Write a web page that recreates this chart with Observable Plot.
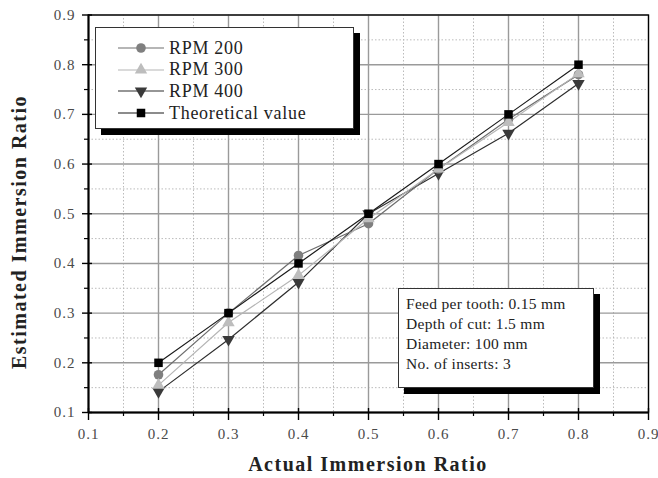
<!DOCTYPE html>
<html>
<head>
<meta charset="utf-8">
<script src="https://cdn.jsdelivr.net/npm/d3@7"></script>
<script src="https://cdn.jsdelivr.net/npm/@observablehq/plot@0.6"></script>
<style>
  html, body { margin: 0; padding: 0; background: #fff; overflow: hidden; }
  #wrap { position: relative; width: 658px; height: 478px; font-family: "Liberation Serif", "Times New Roman", serif; }
  #wrap svg { display: block; }
  #wrap svg.tickchart text { font-size: 15px !important; letter-spacing: 1px; font-family: "Liberation Serif", serif !important; }
  .box { position: absolute; background: #fff; border: 1px solid #333; box-shadow: 6px 6px 0 #000; box-sizing: border-box; }
  #legend { left: 95px; top: 27px; width: 259px; height: 102px; }
  .row { position: absolute; left: 0; height: 22px; display: flex; align-items: center; }
  .row svg { margin-left: 22px; }
  .row span { margin-left: 5px; font-size: 18px; letter-spacing: 0.7px; color: #222; }
  #notes { left: 398px; top: 288px; width: 196px; height: 100px; padding: 5px 0 0 7px; font-size: 15.5px; line-height: 20px; color: #222; letter-spacing: 0.3px; }
  .title { position: absolute; font-weight: bold; font-size: 20px; letter-spacing: 1.5px; color: #222; white-space: nowrap; }
</style>
</head>
<body>
<div id="wrap"></div>
<script>
// Actual immersion ratios (x) and estimated ratios per spindle speed
const actual = [0.2, 0.3, 0.4, 0.5, 0.6, 0.7, 0.8];
const rpm200 = [0.176, 0.300, 0.416, 0.480, 0.590, 0.690, 0.780];
const rpm300 = [0.155, 0.281, 0.376, 0.490, 0.590, 0.684, 0.782];
const rpm400 = [0.142, 0.247, 0.362, 0.500, 0.581, 0.662, 0.762];
const theoretical = [0.2, 0.3, 0.4, 0.5, 0.6, 0.7, 0.8];

const seriesNames = ["RPM 200", "RPM 300", "RPM 400", "Theoretical value"];
const majorTicks = [0.1, 0.2, 0.3, 0.4, 0.5, 0.6, 0.7, 0.8, 0.9];
const minorTicks = [0.15, 0.25, 0.35, 0.45, 0.55, 0.65, 0.75, 0.85];
const notes = ["Feed per tooth: 0.15 mm", "Depth of cut: 1.5 mm", "Diameter: 100 mm", "No. of inserts: 3"];

// Marker styling per series
const styles = {
  "RPM 200": {symbol: "circle", r: 4.8, fill: "#7f7f7f", line: "#6e6e6e", rotate: 0},
  "RPM 300": {symbol: "triangle", r: 4.6, fill: "#bdbdbd", line: "#b5b5b5", rotate: 0},
  "RPM 400": {symbol: "triangle", r: 4.6, fill: "#3a3a3a", line: "#2e2e2e", rotate: 180},
  "Theoretical value": {symbol: "square", r: 4.8, fill: "#000", line: "#1a1a1a", rotate: 0}
};

const valuesBySeries = {"RPM 200": rpm200, "RPM 300": rpm300, "RPM 400": rpm400, "Theoretical value": theoretical};
const rows = seriesNames.flatMap(s => actual.map((x, i) => ({series: s, x, y: valuesBySeries[s][i]})));

// Drawing order: dark triangles underneath, squares on top
const drawOrder = ["RPM 400", "RPM 200", "RPM 300", "Theoretical value"];

const marks = [
  Plot.ruleX(minorTicks, {stroke: "#bbb", strokeDasharray: "1.5,2", strokeWidth: 1}),
  Plot.ruleY(minorTicks, {stroke: "#bbb", strokeDasharray: "1.5,2", strokeWidth: 1}),
  Plot.ruleX(majorTicks, {stroke: "#9a9a9a", strokeWidth: 1.4}),
  Plot.ruleY(majorTicks, {stroke: "#9a9a9a", strokeWidth: 1.4}),
  Plot.frame({stroke: "#000", strokeWidth: 1.3}),
  Plot.ruleX([0.1], {stroke: "#000", strokeWidth: 2}),
  Plot.ruleY([0.1], {stroke: "#000", strokeWidth: 2}),
  // outward major ticks with labels
  Plot.axisX({ticks: majorTicks, tickSize: 8, tickPadding: 8, tickFormat: d3.format(".1f"), stroke: "#000", strokeWidth: 1.4, fill: "#4a4a4a", fontSize: 15, label: null}),
  Plot.axisY({ticks: majorTicks, tickSize: 6, tickPadding: 7, tickFormat: d3.format(".1f"), stroke: "#000", strokeWidth: 1.4, fill: "#4a4a4a", fontSize: 15, label: null}),
  // inward part of major ticks
  Plot.axisX({ticks: majorTicks, tickSize: -4, text: null, label: null, stroke: "#000", strokeWidth: 1.4}),
  Plot.axisY({ticks: majorTicks, tickSize: -4, text: null, label: null, stroke: "#000", strokeWidth: 1.4}),
  // minor ticks
  Plot.axisX({ticks: minorTicks, tickSize: 4, text: null, label: null, stroke: "#000", strokeWidth: 1.2}),
  Plot.axisY({ticks: minorTicks, tickSize: 4, text: null, label: null, stroke: "#000", strokeWidth: 1.2})
];

for (const s of drawOrder) {
  const st = styles[s];
  const data = rows.filter(d => d.series === s);
  marks.push(Plot.line(data, {x: "x", y: "y", stroke: st.line, strokeWidth: 1.2}));
}
for (const s of drawOrder) {
  const st = styles[s];
  const data = rows.filter(d => d.series === s);
  marks.push(Plot.dot(data, {x: "x", y: "y", symbol: () => st.symbol, r: st.r, fill: st.fill, stroke: "none", rotate: st.rotate}));
}

const chart = Plot.plot({
  width: 658,
  height: 478,
  marginLeft: 88,
  marginRight: 10,
  marginTop: 14.5,
  marginBottom: 66,
  style: {fontFamily: "'Liberation Serif', 'Times New Roman', serif", fontSize: "15px", background: "#fff", overflow: "visible"},
  x: {domain: [0.1, 0.9], axis: null},
  y: {domain: [0.1, 0.9], axis: null},
  symbol: {type: "identity"},
  marks
});
chart.classList.add("tickchart");
d3.select(chart).selectAll("text").attr("font-size", 15).style("font-size", "15px");

const wrap = document.getElementById("wrap");
wrap.appendChild(chart);

// Legend box
const legend = document.createElement("div");
legend.className = "box";
legend.id = "legend";
seriesNames.forEach((s, i) => {
  const st = styles[s];
  const row = document.createElement("div");
  row.className = "row";
  row.style.top = (9 + i * 21.7) + "px";
  const sw = d3.create("svg").attr("width", 46).attr("height", 22);
  sw.append("line").attr("x1", 0).attr("x2", 46).attr("y1", 11).attr("y2", 11).attr("stroke", st.line).attr("stroke-width", 1.2);
  const sym = st.symbol === "circle" ? d3.symbolCircle : st.symbol === "square" ? d3.symbolSquare : d3.symbolTriangle;
  const size = Math.PI * st.r * st.r;
  sw.append("path").attr("d", d3.symbol(sym, size)()).attr("fill", st.fill)
    .attr("transform", `translate(23,11) rotate(${st.rotate})`);
  row.appendChild(sw.node());
  const label = document.createElement("span");
  label.textContent = s;
  row.appendChild(label);
  legend.appendChild(row);
});
wrap.appendChild(legend);

// Cutting condition notes
const box = document.createElement("div");
box.className = "box";
box.id = "notes";
box.innerHTML = notes.map(t => `<div>${t}</div>`).join("");
wrap.appendChild(box);

// Axis titles
const xt = document.createElement("div");
xt.className = "title";
xt.textContent = "Actual Immersion Ratio";
xt.style.left = "368px";
xt.style.top = "453px";
xt.style.transform = "translateX(-50%)";
wrap.appendChild(xt);

const yt = document.createElement("div");
yt.className = "title";
yt.textContent = "Estimated Immersion Ratio";
yt.style.left = "19px";
yt.style.top = "232px";
yt.style.transform = "translate(-50%, -50%) rotate(-90deg)";
wrap.appendChild(yt);
</script>
</body>
</html>
